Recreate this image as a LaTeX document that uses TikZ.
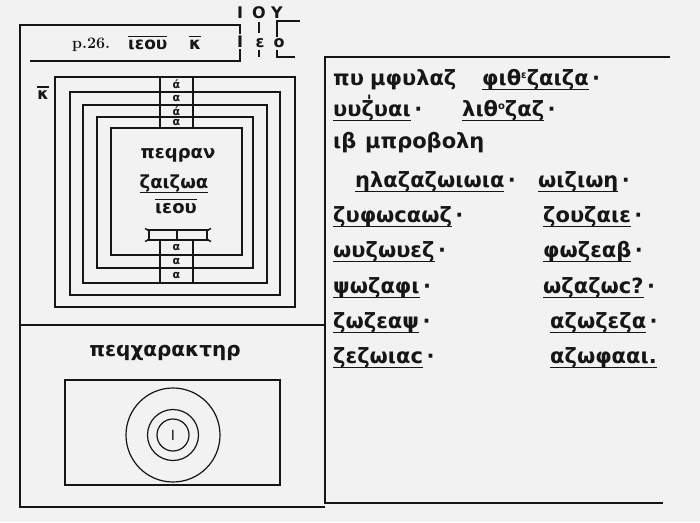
\documentclass[tikz,border=0pt]{standalone}
\usepackage{fontspec}
\newfontfamily\cop{DejaVu Sans}
\newcommand\ulc[1]{\setbox0=\hbox{#1}\rlap{\rule[-5pt]{\wd0}{1.3pt}}\box0}
\newcommand\olc[1]{\setbox0=\hbox{#1}\rlap{\rule[\dimexpr\ht0+2.5pt\relax]{\wd0}{1.3pt}}\box0}
\newcommand\supc[1]{\raisebox{7pt}{\fontsize{10}{10}\selectfont #1}}
\definecolor{paper}{RGB}{242,242,242}
\definecolor{ink}{RGB}{22,22,22}
\begin{document}
\begin{tikzpicture}[x=1pt,y=-1pt,
  frame/.style={draw=ink,line width=1.9pt},
  sq/.style={draw=ink,line width=1.5pt},
  thin/.style={draw=ink,line width=1.2pt},
  txt/.style={inner sep=0pt,text=ink,font=\cop\bfseries\fontsize{21}{21}\selectfont},
  inn/.style={inner sep=0pt,text=ink,font=\cop\bfseries\fontsize{18}{18}\selectfont},
  mid/.style={inner sep=0pt,text=ink,font=\cop\bfseries\fontsize{16}{16}\selectfont},
  cell/.style={inner sep=0pt,text=ink,font=\cop\bfseries\fontsize{11}{11}\selectfont}]
\fill[paper] (0,0) rectangle (700,522);
\useasboundingbox (0,0) rectangle (700,522);

% ---- frames ----
\draw[frame] (240,34) -- (240,25) -- (20,25) -- (20,507) -- (325,507);
\draw[frame] (240,49) -- (240,61) -- (30,61);
\draw[frame] (20,325) -- (325,325);
\draw[frame] (670,57) -- (325,57) -- (325,503) -- (663,503);

% ---- top marks ----
\draw[thin] (259,22) -- (259,33);
\draw[thin] (259,50) -- (259,57);
\draw[thin] (300,21) -- (277,21) -- (277,37);
\draw[thin] (277,50) -- (277,57) -- (295,57);
\node[mid,anchor=base] (tI1) at (240,18) {Ι};
\node[mid,anchor=base] (tO1) at (259,18) {Ο};
\node[mid,anchor=base] (tY1) at (277,18) {Υ};
\node[mid,anchor=base] (tI2) at (240,47) {Ι};
\node[mid,anchor=base] (te2) at (260,47) {ε};
\node[mid,anchor=base] (to2) at (279,47) {ο};

% ---- title ----
\node[inner sep=0pt,anchor=base west,text=ink,font=\bfseries\fontsize{16}{16}\selectfont] (pg) at (72,48) {p.26.};
\node[mid,anchor=base west,font=\cop\bfseries\fontsize{17}{17}\selectfont] (ieou1) at (128,49) {\olc{ιεου}};
\node[mid,anchor=base west,font=\cop\bfseries\fontsize{17}{17}\selectfont] (k1) at (189,49) {\olc{κ}};
\node[mid,anchor=base] (k2) at (43,99) {\olc{κ}};

% ---- nested squares ----
\draw[sq] (55,77) rectangle (295,307);
\draw[sq] (70,92) rectangle (280,295);
\draw[sq] (83,105) rectangle (267,283);
\draw[sq] (97,117) rectangle (253,268);
\draw[sq] (111,128) rectangle (242,255);
% top strip
\draw[sq] (160,77) -- (160,128);
\draw[sq] (193,77) -- (193,128);
\node[cell] (a1) at (176.5,84.5) {ά};
\node[cell] (a2) at (176.5,98.5) {α};
\node[cell] (a3) at (176.5,111) {ά};
\node[cell] (a4) at (176.5,122.5) {α};
% bottom I-beam and strip
\draw[sq] (147,230) -- (209,230);
\draw[sq] (147,240) -- (209,240);
\draw[sq] (149,229) -- (149,241);
\draw[sq] (207,229) -- (207,241);
\draw[sq] (145,228.5) -- (149,230.5);
\draw[sq] (145,241.5) -- (149,239.5);
\draw[sq] (211,228.5) -- (207,230.5);
\draw[sq] (211,241.5) -- (207,239.5);
\draw[sq] (177,230) -- (177,240);
\draw[sq] (160,240) -- (160,283);
\draw[sq] (193,240) -- (193,283);
\node[cell] (b1) at (176.5,247.5) {α};
\node[cell] (b2) at (176.5,261.5) {α};
\node[cell] (b3) at (176.5,275.5) {α};

% ---- inner names ----
\node[inn,anchor=base] (pefran) at (178,158) {πεϥραν};
\node[inn,anchor=base] (zaizoa) at (174,188) {\ulc{ζαιζωα}};
\node[inn,anchor=base] (ieou2) at (176,213) {\olc{ιεου}};

% ---- character ----
\node[txt,anchor=base,font=\cop\bfseries\fontsize{20}{20}\selectfont] (char) at (165,356) {πεϥχαρακτηρ};
\draw[sq] (65,380) rectangle (280,485);
\draw[thin] (173,435) circle (47);
\draw[thin] (173,435) circle (25.5);
\draw[thin] (173,435) circle (16);
\node[mid,font=\cop\fontsize{14}{14}\selectfont] (iota) at (173,435) {Ι};

% ---- right panel text ----
\node[txt,anchor=base west] (l1a) at (333,85) {πυ};
\node[txt,anchor=base west] (l1b) at (370,85) {μφυλαζ};
\node[txt,anchor=base west] (l1c) at (482,85) {\ulc{φιθ\supc{ε}ζαιζα}\,·};
\node[txt,anchor=base west] (l2a) at (333,116) {\ulc{υυζ̍υαι}\,·};
\node[txt,anchor=base west] (l2b) at (462,116) {\ulc{λιθ\supc{ο}ζαζ}\,·};
\node[txt,anchor=base west] (l3a) at (333,148) {ιβ};
\node[txt,anchor=base west] (l3b) at (365,148) {μπροβολη};

\node[txt,anchor=base west] (r1a) at (355,187) {\ulc{ηλαζαζωιωια}\,·};
\node[txt,anchor=base west] (r1b) at (538,187) {\ulc{ωιζιωη}\,·};
\node[txt,anchor=base west] (r2a) at (333,222) {\ulc{ζυφωϲαωζ}\,·};
\node[txt,anchor=base west] (r2b) at (543,222) {\ulc{ζουζαιε}\,·};
\node[txt,anchor=base west] (r3a) at (333,257) {\ulc{ωυζωυεζ}\,·};
\node[txt,anchor=base west] (r3b) at (543,257) {\ulc{φωζεαβ}\,·};
\node[txt,anchor=base west] (r4a) at (333,293) {\ulc{ψωζαφι}\,·};
\node[txt,anchor=base west] (r4b) at (543,293) {\ulc{ωζαζωϲ?}\,·};
\node[txt,anchor=base west] (r5a) at (333,328) {\ulc{ζωζεαψ}\,·};
\node[txt,anchor=base west] (r5b) at (550,328) {\ulc{αζωζεζα}\,·};
\node[txt,anchor=base west] (r6a) at (333,363) {\ulc{ζεζωιαϲ}\,·};
\node[txt,anchor=base west] (r6b) at (550,363) {\ulc{αζωφααι.}};
\end{tikzpicture}
\end{document}
